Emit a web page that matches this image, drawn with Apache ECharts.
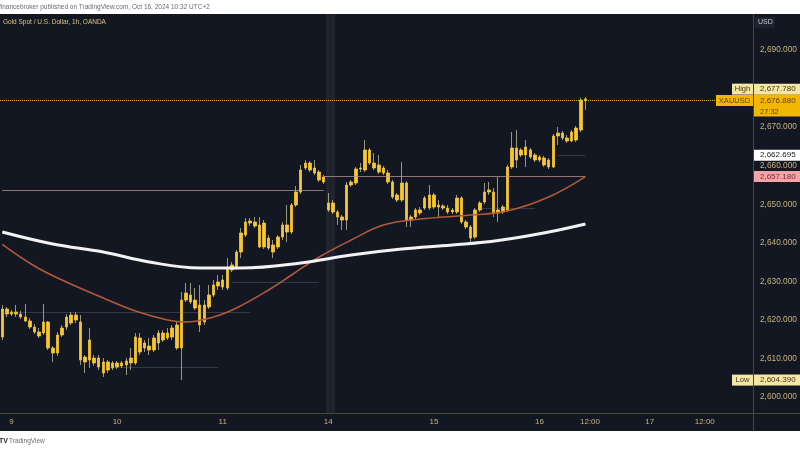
<!DOCTYPE html>
<html>
<head>
<meta charset="utf-8">
<script src="https://cdn.jsdelivr.net/npm/echarts@6.0.0/dist/echarts.min.js"></script>
<style>
html,body{margin:0;padding:0;background:#ffffff;}
#chart{width:800px;height:450px;}
</style>
</head>
<body>
<div id="chart"></div>
<script>
// ---------------- data ----------------
// hourly candles: [open, close, low, high]
const candles = [
[2615.57,2622.83,2614.79,2623.87],[2622.83,2621.53,2620.76,2623.35],[2621.53,2622.05,2621.02,2622.57],[2622.05,2621.53,2620.76,2623.87],
[2621.53,2620.76,2620.24,2622.31],[2620.76,2619.72,2619.46,2624.13],[2619.72,2618.16,2617.64,2620.50],[2618.16,2616.87,2616.35,2618.94],
[2616.87,2615.83,2615.31,2617.90],[2616.61,2619.46,2616.09,2624.13],[2619.46,2612.72,2612.20,2619.72],[2612.72,2611.42,2609.09,2613.24],
[2611.42,2616.09,2610.64,2616.87],[2616.09,2617.90,2615.57,2618.68],[2618.16,2620.76,2617.38,2621.53],[2619.20,2621.27,2618.68,2622.05],
[2621.27,2619.98,2619.20,2622.05],[2619.46,2609.60,2608.31,2621.27],[2610.38,2609.09,2606.23,2610.90],[2609.60,2614.79,2607.53,2617.90],
[2610.12,2608.83,2608.05,2610.90],[2610.12,2607.79,2607.01,2610.90],[2609.09,2606.23,2605.20,2610.12],[2607.01,2609.09,2606.23,2609.60],
[2607.53,2608.83,2607.01,2609.34],[2608.83,2607.79,2607.27,2609.34],[2608.05,2608.83,2607.53,2609.34],[2608.31,2609.34,2605.71,2610.12],
[2608.83,2610.12,2607.01,2612.72],[2608.83,2615.57,2608.31,2616.61],[2615.31,2611.68,2610.90,2616.61],[2612.72,2614.01,2611.68,2614.79],
[2613.24,2612.20,2610.90,2615.31],[2612.20,2615.31,2611.68,2616.09],[2614.01,2616.61,2612.20,2617.38],[2616.61,2614.79,2614.27,2617.38],
[2615.31,2616.61,2614.79,2617.90],[2615.57,2617.90,2614.79,2618.68],[2618.68,2612.72,2612.20,2619.46],[2612.72,2625.16,2604.39,2627.24],
[2625.16,2626.98,2624.65,2629.57],[2626.46,2624.65,2624.13,2629.57],[2625.16,2623.09,2622.57,2628.28],[2623.87,2618.68,2616.87,2629.06],
[2619.46,2623.87,2618.68,2625.16],[2623.35,2626.46,2622.83,2629.06],[2626.46,2629.06,2625.94,2630.35],[2628.80,2629.83,2627.76,2631.65],
[2628.54,2630.35,2627.76,2631.65],[2628.28,2633.46,2627.76,2636.06],[2632.95,2634.24,2632.43,2635.02],[2633.46,2637.61,2632.95,2638.13],
[2637.61,2642.54,2636.06,2643.84],[2642.02,2645.39,2641.50,2646.43],[2645.13,2645.65,2644.36,2646.43],[2645.39,2644.36,2643.84,2646.69],
[2644.62,2638.91,2638.65,2646.69],[2638.91,2645.13,2638.39,2645.91],[2641.24,2638.65,2638.13,2642.02],[2639.43,2637.61,2636.06,2640.73],
[2638.91,2641.50,2638.39,2642.02],[2641.50,2644.62,2640.73,2645.39],[2644.62,2642.80,2640.21,2649.80],[2642.80,2649.80,2642.28,2650.32],
[2649.80,2653.17,2649.28,2654.73],[2653.17,2658.88,2652.66,2660.18],[2659.40,2660.69,2658.88,2661.47],[2660.69,2658.88,2658.36,2661.21],
[2659.40,2658.10,2657.58,2661.47],[2658.36,2656.29,2655.77,2658.88],[2657.06,2655.77,2655.25,2657.58],[2650.32,2648.51,2647.99,2652.91],
[2650.32,2647.99,2647.47,2651.10],[2647.99,2646.69,2644.62,2648.51],[2646.69,2645.91,2643.32,2647.21],[2645.91,2654.99,2643.32,2655.77],
[2654.99,2655.77,2654.47,2656.29],[2655.51,2659.14,2654.99,2659.66],[2659.14,2659.40,2658.36,2660.69],[2658.88,2664.07,2658.36,2666.66],
[2664.07,2660.69,2660.18,2664.58],[2660.69,2659.40,2658.88,2663.29],[2660.18,2658.36,2657.84,2662.77],[2659.40,2658.10,2657.58,2659.92],
[2658.10,2655.77,2655.25,2658.88],[2655.77,2651.88,2651.36,2656.29],[2652.40,2651.10,2650.58,2652.91],[2651.10,2655.51,2650.58,2660.95],
[2655.51,2645.91,2644.10,2656.03],[2645.91,2646.69,2644.10,2647.21],[2646.69,2648.51,2646.17,2649.02],[2648.51,2647.73,2647.21,2649.28],
[2649.02,2651.62,2648.51,2652.14],[2649.02,2652.40,2648.51,2654.99],[2652.40,2649.28,2648.77,2652.91],[2649.28,2649.80,2646.43,2651.10],
[2649.54,2649.02,2648.51,2650.06],[2649.02,2647.99,2647.47,2649.80],[2647.99,2648.51,2647.47,2649.02],[2647.99,2651.62,2647.47,2652.40],
[2651.62,2645.39,2644.87,2652.14],[2645.39,2644.10,2643.58,2645.91],[2644.10,2641.24,2639.43,2644.62],[2641.50,2648.51,2640.98,2649.02],
[2648.51,2650.32,2647.99,2650.84],[2650.58,2653.17,2650.06,2655.51],[2653.17,2653.69,2652.40,2655.77],[2653.17,2647.73,2646.69,2654.21],
[2647.73,2648.51,2645.39,2657.06],[2647.99,2649.28,2647.47,2649.80],[2648.51,2659.66,2647.99,2660.18],[2659.66,2664.58,2659.14,2668.73],
[2664.58,2661.47,2659.40,2669.25],[2664.07,2662.77,2662.25,2664.58],[2662.77,2664.84,2659.66,2666.66],[2664.07,2662.25,2661.73,2664.58],
[2662.77,2661.47,2660.95,2663.29],[2661.47,2662.25,2660.95,2662.77],[2661.99,2660.18,2659.66,2662.51],[2661.47,2659.66,2659.14,2661.99],
[2659.66,2667.70,2659.40,2668.21],[2667.70,2668.47,2665.36,2670.03],[2668.47,2667.18,2666.66,2668.99],[2667.18,2666.40,2665.88,2667.96],
[2666.40,2668.73,2666.14,2669.25],[2666.66,2669.77,2666.14,2670.29],[2669.25,2677.03,2668.73,2677.60],[2677.30,2676.88,2674.44,2677.78]
];
// time axis (hourly slots, including empty future slots)
const slotCount = 164;
const xTickIdx  = [2, 25, 48, 71, 94, 117, 128, 141, 153];
const xTickText = ['9', '10', '11', '14', '15', '16', '12:00', '17', '12:00'];
// price axis
const yMin = 2595.86, yMax = 2699.34;
const yTicks = [2600, 2610, 2620, 2630, 2640, 2650, 2660, 2670, 2680, 2690];
// moving averages (sampled along the curves)
const maSlowIdx = [0, 11, 22, 32, 43, 52, 65, 76, 87, 98, 108, 119, 127];
const maSlowVal = [2642.80, 2639.69, 2637.61, 2635.02, 2633.46, 2633.46, 2634.76, 2636.84, 2638.39, 2639.43, 2640.60, 2642.80, 2644.87];
const maFastIdx = [0, 7, 13, 22, 29, 36, 40, 46, 51, 58, 63, 69, 76, 83, 91, 102, 110, 119, 127];
const maFastVal = [2639.60, 2633.98, 2630.35, 2625.68, 2622.31, 2619.98, 2619.46, 2620.76, 2623.09, 2627.76, 2631.65, 2636.32, 2640.73, 2644.62, 2646.17, 2647.21, 2648.25, 2651.88, 2657.18];
// horizontal levels: [fromSlot, toSlot, price]
const levelSegs = [[0, 70, 2653.69], [70, 127, 2657.18]];
const faintSegs = [[0, 54, 2622.05], [22, 47, 2607.79], [50, 69, 2629.83], [104, 116, 2649.02], [121, 127, 2662.70]];
// session highlight slots
const sessionBand = [71, 72];
// price tags
const lastPrice = 2676.88, highPrice = 2677.78, lowPrice = 2604.39;
const whiteLevel = 2662.695, maTagLevel = 2657.18;
const countdown = '27:32';

// ---------------- chart ----------------
const FONT = 'Liberation Sans';
const GOLD = '#f7c633';
const WICK = '#9c957f';
const AXIS_TXT = '#c9b27d';
const fmt = v => v.toLocaleString('en-US', {minimumFractionDigits: 3, maximumFractionDigits: 3});

const cats = Array.from({length: slotCount}, (_, i) => 's' + i);
const tickMap = {};
xTickIdx.forEach((k, i) => { tickMap[k] = xTickText[i]; });
const bodies = candles.map(d => [d[0], d[1], Math.min(d[0], d[1]), Math.max(d[0], d[1])]);
const bandData = cats.map((_, i) => sessionBand.includes(i) ? yMax : null);
const seg = (arr) => arr.map(s => [{coord: [s[0], s[2]]}, {coord: [s[1], s[2]]}]);

const chart = echarts.init(document.getElementById('chart'));
chart.setOption({
  animation: false,
  backgroundColor: '#131722',
  grid: {left: -1.6, right: 47, top: 14, bottom: 37},
  xAxis: {
    type: 'category', data: cats, boundaryGap: true,
    axisLine: {show: false}, axisTick: {show: false}, splitLine: {show: false},
    axisLabel: {
      interval: (i) => tickMap[i] !== undefined,
      formatter: (v, i) => tickMap[i] || '',
      color: AXIS_TXT, fontSize: 8, fontFamily: FONT, margin: 5
    }
  },
  yAxis: {
    type: 'value', position: 'right', min: yMin, max: yMax, scale: true,
    axisLine: {show: false}, axisTick: {show: false}, splitLine: {show: false},
    axisLabel: {customValues: yTicks, formatter: v => fmt(v), color: AXIS_TXT, fontSize: 8.3, fontFamily: FONT, margin: 7, align: 'left'}
  },
  series: [
    {type: 'bar', data: bandData, barWidth: '100%', silent: true, z: 1,
     itemStyle: {color: '#20242f'}},
    {type: 'candlestick', data: candles, barWidth: 1, z: 3, silent: true,
     itemStyle: {color: 'rgba(0,0,0,0)', color0: 'rgba(0,0,0,0)', borderColor: WICK, borderColor0: WICK, borderWidth: 1},
     markLine: {
       silent: true, symbol: ['none', 'none'], label: {show: false},
       data: [
         ...seg(faintSegs).map(d => { d[0].lineStyle = {color: 'rgba(140,145,160,0.28)', width: 1, type: 'solid'}; return d; }),
         ...seg(levelSegs).map(d => { d[0].lineStyle = {color: 'rgba(190,150,150,0.75)', width: 1, type: 'solid'}; return d; }),
         {yAxis: lastPrice, lineStyle: {color: '#dba93a', width: 1, type: 'dotted'}}
       ]
     }},
    {type: 'candlestick', data: bodies, barWidth: 3, z: 4, silent: true,
     itemStyle: {color: GOLD, color0: GOLD, borderColor: GOLD, borderColor0: GOLD, borderWidth: 0.8}},
    {type: 'line', data: maSlowIdx.map((k, i) => [k, maSlowVal[i]]), smooth: 0.4, symbol: 'none', z: 6, silent: true,
     lineStyle: {color: '#f2f2f2', width: 3}},
    {type: 'line', data: maFastIdx.map((k, i) => [k, maFastVal[i]]), smooth: 0.4, symbol: 'none', z: 5, silent: true,
     lineStyle: {color: '#b5593b', width: 1.5}}
  ]
});

// ---------------- overlays (positions from the chart's own scale) ----------------
const py = v => chart.convertToPixel({yAxisIndex: 0}, v);
function txt(x, y, text, fill, size, align, weight) {
  return {type: 'text', z: 102, silent: true,
    style: {x: x, y: y, text: text, fill: fill, font: (weight || 'normal') + ' ' + size + 'px "' + FONT + '"', align: align || 'left', verticalAlign: 'middle'}};
}
function rect(x, y, w, h, fill, z) {
  return {type: 'rect', z: z || 101, silent: true, shape: {x: x, y: y, width: w, height: h}, style: {fill: fill}};
}
const yH = py(highPrice) - 8, yL = py(lastPrice), yW = py(whiteLevel), yM = py(maTagLevel), yLo = py(lowPrice);
const PALE = '#f5e7a3', DARK = '#3d3520', ORG = '#f2b705';
const g = [
  rect(0, 0, 800, 14, '#ffffff', 100),
  txt(-1, 7, 'financebroker published on TradingView.com, Oct 16, 2024 10:32 UTC+2', '#6b6b6b', 6.5),
  rect(0, 431, 800, 19, '#ffffff', 100),
  txt(-1, 441, 'TV', '#222222', 7, 'left', 'bold'),
  txt(9, 441, 'TradingView', '#6b6b6b', 6.5),
  txt(3, 22, 'Gold Spot / U.S. Dollar, 1h, OANDA', '#dcc27a', 6.5),
  {type: 'line', z: 101, silent: true, shape: {x1: 753.5, y1: 14, x2: 753.5, y2: 431}, style: {stroke: '#4d4738', lineWidth: 1}},
  {type: 'line', z: 101, silent: true, shape: {x1: 0, y1: 413.5, x2: 800, y2: 413.5}, style: {stroke: '#4d4738', lineWidth: 1}},
  rect(755, 17, 20, 11, '#1e2230'), txt(758, 22.5, 'USD', '#c9c9c9', 7),
  rect(732, yH - 5.5, 21, 11, PALE), txt(742.5, yH, 'High', DARK, 7.5, 'center'),
  rect(754, yH - 5.5, 46, 11, PALE), txt(760, yH, fmt(highPrice), DARK, 8),
  rect(716, yL - 5.5, 37, 11, ORG), txt(734.5, yL, 'XAUUSD', '#5c4300', 7.5, 'center'),
  rect(754, yL - 6, 46, 22, ORG), txt(760, yL, fmt(lastPrice), '#5c4300', 8), txt(760, yL + 11, countdown, '#5c4300', 7.5),
  rect(754, yW - 5.5, 46, 11, '#ffffff'), txt(760, yW, fmt(whiteLevel), '#222222', 8),
  rect(754, yM - 5.5, 46, 11, '#f4a3a6'), txt(760, yM, fmt(maTagLevel), '#7d2b2b', 8),
  rect(732, yLo - 5.5, 21, 11, PALE), txt(742.5, yLo, 'Low', DARK, 7.5, 'center'),
  rect(754, yLo - 5.5, 46, 11, PALE), txt(760, yLo, fmt(lowPrice), DARK, 8)
];
chart.setOption({graphic: {elements: g}});
</script>
</body>
</html>
